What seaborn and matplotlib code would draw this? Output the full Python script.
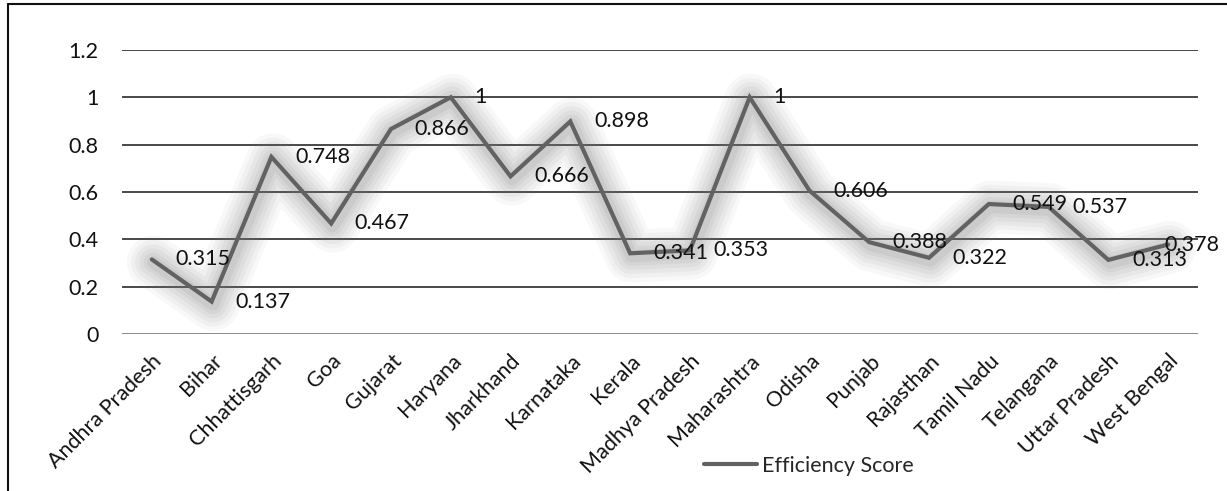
import matplotlib
matplotlib.use("Agg")
import matplotlib.pyplot as plt
import matplotlib.patheffects as pe
from matplotlib.lines import Line2D
import seaborn as sns
import pandas as pd

states = ["Andhra Pradesh", "Bihar", "Chhattisgarh", "Goa", "Gujarat", "Haryana",
          "Jharkhand", "Karnataka", "Kerala", "Madhya Pradesh", "Maharashtra",
          "Odisha", "Punjab", "Rajasthan", "Tamil Nadu", "Telangana",
          "Uttar Pradesh", "West Bengal"]
scores = [0.315, 0.137, 0.748, 0.467, 0.866, 1.0, 0.666, 0.898, 0.341, 0.353,
          1.0, 0.606, 0.388, 0.322, 0.549, 0.537, 0.313, 0.378]
label_text = ["0.315", "0.137", "0.748", "0.467", "0.866", "1", "0.666", "0.898",
              "0.341", "0.353", "1", "0.606", "0.388", "0.322", "0.549", "0.537",
              "0.313", "0.378"]
y_ticks = [0, 0.2, 0.4, 0.6, 0.8, 1.0, 1.2]
y_tick_labels = ["0", "0.2", "0.4", "0.6", "0.8", "1", "1.2"]

sns.set_theme(style="white")
plt.rcParams["font.family"] = ["Lato", "DejaVu Sans"]
FS = 15.5

df = pd.DataFrame({"State": states, "Efficiency Score": scores})
df["pos"] = range(len(states))

fig = plt.figure(figsize=(12.27, 4.91), dpi=100)
ax = fig.add_axes([0.0994, 0.3198, 0.8770, 0.5784])

line_color = "#626262"
sns.lineplot(data=df, x="pos", y="Efficiency Score", ax=ax, color=line_color,
             linewidth=3.0, label="Efficiency Score", legend=False, zorder=5)
main_line = ax.lines[-1]
main_line.set_solid_joinstyle("miter")
# soft glow under the line
glow = []
for w, a in [(38, 0.05), (32, 0.06), (26, 0.07), (20, 0.08), (14, 0.09), (9, 0.10)]:
    glow.append(pe.Stroke(linewidth=w, foreground="#7c7c7c", alpha=a,
                          offset=(1, -2), joinstyle="round", capstyle="round"))
glow.append(pe.Normal())
main_line.set_path_effects(glow)

# value labels to the right of each point; the last one is pulled in to stay inside
n = len(states)
for x, y, t in zip(df["pos"], df["Efficiency Score"], label_text):
    dx = 17 if x < n - 1 else -3
    ax.annotate(t, xy=(x, y), xytext=(dx, 0), textcoords="offset points",
                ha="left", va="center", fontsize=FS, color="#111111", zorder=6)

ax.set_xlim(-0.5, n - 0.5)
ax.set_ylim(0, 1.2)
ax.set_yticks(y_ticks)
ax.set_yticklabels(y_tick_labels, fontsize=FS, color="#111111")
ax.set_xticks(range(n))
ax.set_xticklabels(states, rotation=45, ha="right", rotation_mode="anchor",
                   fontsize=FS, color="#111111")
ax.tick_params(axis="y", length=0, pad=17)
ax.tick_params(axis="x", length=0, pad=12)
ax.set_xlabel("")
ax.set_ylabel("")

for v in y_ticks:
    if v == 0:
        ax.axhline(v, color="#8a8a8a", linewidth=1.4, zorder=1)
    else:
        ax.axhline(v, color="#3a3a3a", linewidth=1.3, zorder=1)
for s in ax.spines.values():
    s.set_visible(False)
ax.grid(False)

handle = Line2D([], [], color=line_color, linewidth=3.0)
fig.legend([handle], ["Efficiency Score"], loc="center",
           bbox_to_anchor=(0.659, 0.051), frameon=False, fontsize=FS,
           handlelength=2.5, handletextpad=0.2)

# outer frame (top and left edges)
fig.add_artist(Line2D([0.0065, 1.0], [0.991, 0.991], transform=fig.transFigure,
                      color="#111111", linewidth=1.5))
fig.add_artist(Line2D([0.0065, 0.0065], [0.0, 0.991], transform=fig.transFigure,
                      color="#111111", linewidth=1.5))

fig.savefig("out.png", dpi=100)
